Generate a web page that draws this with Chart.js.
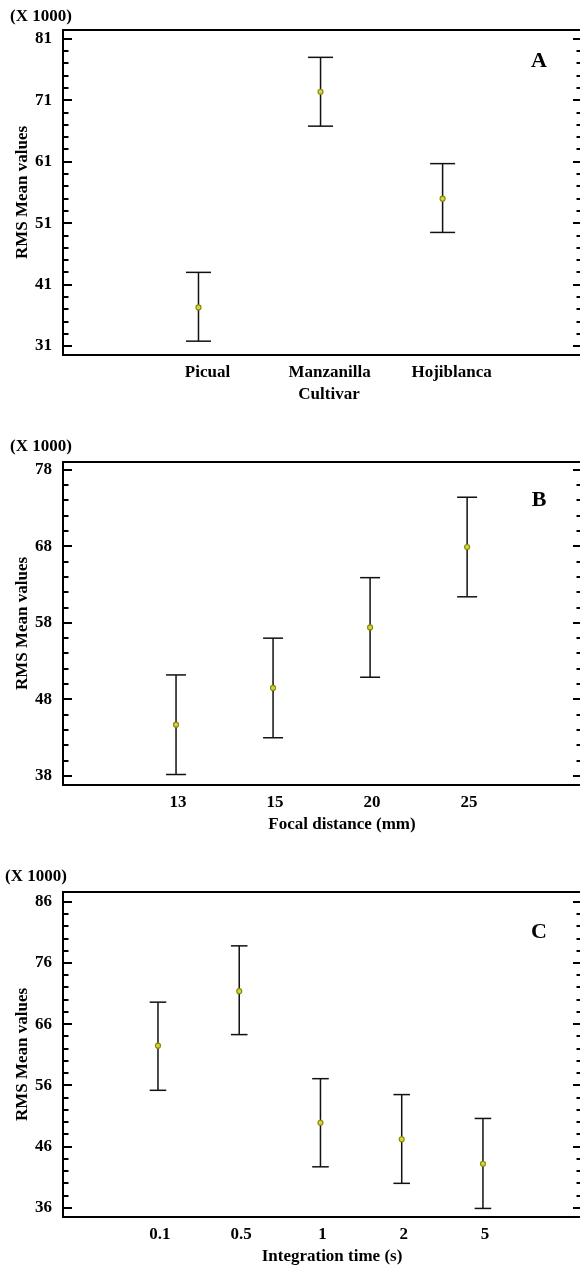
<!DOCTYPE html>
<html>
<head>
<meta charset="utf-8">
<script src="https://cdn.jsdelivr.net/npm/chart.js@4.4.1/dist/chart.umd.min.js"></script>
<style>
  html, body { margin: 0; padding: 0; overflow: hidden; background: #fff; }
  .panel { position: absolute; left: 0; }
</style>
</head>
<body>
<div class="panel" style="top:0"><canvas id="chartA" width="582" height="420"></canvas></div>
<div class="panel" style="top:430px"><canvas id="chartB" width="582" height="430"></canvas></div>
<div class="panel" style="top:860px"><canvas id="chartC" width="582" height="407"></canvas></div>
<script>
// values are in thousands (axis says X 1000)
const cultivars = ['Picual', 'Manzanilla', 'Hojiblanca'];
const cultivarMean = [37.3, 72.4, 55.0];
const cultivarLow = [31.8, 66.8, 49.5];
const cultivarHigh = [43.0, 78.0, 60.7];
const cultivarTicks = [31, 41, 51, 61, 71, 81];

const focalDistances = ['13', '15', '20', '25'];
const focalMean = [44.7, 49.5, 57.4, 67.9];
const focalLow = [38.2, 43.0, 50.9, 61.4];
const focalHigh = [51.2, 56.0, 63.9, 74.4];
const focalTicks = [38, 48, 58, 68, 78];

const integrationTimes = ['0.1', '0.5', '1', '2', '5'];
const integrationMean = [62.5, 71.4, 49.9, 47.2, 43.2];
const integrationLow = [55.2, 64.3, 42.7, 40.0, 35.9];
const integrationHigh = [69.6, 78.8, 57.1, 54.5, 50.6];
const integrationTicks = [36, 46, 56, 66, 76, 86];

const FONT = '"Liberation Serif", "Times New Roman", serif';

// box top/right + inward ticks + loose text
const framePlugin = {
  id: 'frame',
  afterDraw(chart, args, o) {
    const { ctx, chartArea: a, scales: { y } } = chart;
    ctx.save();
    ctx.strokeStyle = '#000';
    ctx.lineWidth = 2;
    ctx.beginPath();
    ctx.moveTo(a.left, a.top);
    ctx.lineTo(a.right, a.top);
    ctx.lineTo(a.right, a.bottom);
    ctx.stroke();

    const first = o.major[0];
    const last = o.major[o.major.length - 1];
    for (let v = first; v <= last + 0.001; v += 2) {
      const isMajor = o.major.includes(v);
      const len = isMajor ? 9 : 5.5;
      const py = Math.round(y.getPixelForValue(v));
      ctx.beginPath();
      ctx.moveTo(a.left, py); ctx.lineTo(a.left + len, py);
      ctx.moveTo(a.right, py); ctx.lineTo(a.right - len, py);
      ctx.stroke();
    }

    ctx.fillStyle = '#000';
    ctx.font = 'bold 17px ' + FONT;
    ctx.textBaseline = 'middle';
    ctx.textAlign = 'left';
    ctx.fillText('(X 1000)', o.unitX, a.top - o.unitDy);
    ctx.textAlign = 'center';
    ctx.fillText(o.xTitle, o.xTitleX, a.bottom + 40);
    ctx.font = 'bold 22px ' + FONT;
    ctx.fillText(o.letter, a.right - 43, a.top + o.letterDy);
    ctx.restore();
  }
};

function makePanel(id, p) {
  const whisker = [];
  p.cats.forEach((c, i) => {
    whisker.push({ x: i + 1, y: p.low[i] });
    whisker.push({ x: i + 1, y: p.high[i] });
    whisker.push({ x: i + 1, y: null });
  });
  const means = p.mean.map((v, i) => ({ x: i + 1, y: v }));

  new Chart(document.getElementById(id), {
    type: 'line',
    data: {
      datasets: [
        {
          data: means,
          showLine: false,
          pointStyle: 'circle',
          pointRadius: 2.5,
          pointBorderWidth: 1.2,
          pointBorderColor: '#8c8c00',
          pointBackgroundColor: '#d4d44a',
          order: 0
        },
        {
          data: whisker,
          spanGaps: false,
          borderColor: '#111',
          borderWidth: 1.5,
          pointStyle: 'line',
          pointRadius: p.cap,
          pointBorderColor: '#111',
          pointBorderWidth: 1.5,
          order: 1
        }
      ]
    },
    options: {
      responsive: false,
      animation: false,
      devicePixelRatio: 1,
      layout: { autoPadding: false, padding: { left: 8, top: p.top, right: 0, bottom: 0 } },
      plugins: {
        legend: { display: false },
        tooltip: { enabled: false },
        frame: p.frame
      },
      scales: {
        x: {
          type: 'linear',
          bounds: 'data',
          min: p.xMin,
          max: p.xMax,
          grid: { display: false, drawTicks: false },
          border: { display: true, color: '#000', width: 2 },
          afterBuildTicks: s => { s.ticks = p.cats.map((c, i) => ({ value: i + 1 })); },
          afterFit: s => { s.height = p.xh; s.paddingLeft = 0; s.paddingRight = 0; },
          ticks: {
            autoSkip: false,
            maxRotation: 0,
            padding: 7,
            labelOffset: p.labelOffset,
            color: '#000',
            font: { family: FONT, size: 17, weight: 'bold' },
            callback: (v, i) => p.cats[i]
          }
        },
        y: {
          type: 'linear',
          bounds: 'data',
          min: p.yMin,
          max: p.yMax,
          grid: { display: false, drawTicks: false },
          border: { display: true, color: '#000', width: 2 },
          afterBuildTicks: s => { s.ticks = p.yTicks.map(v => ({ value: v })); },
          afterFit: s => { s.width = 55; s.paddingTop = 0; s.paddingBottom = 0; },
          title: {
            display: true,
            text: 'RMS Mean values',
            color: '#000',
            padding: { top: 4, bottom: 0 },
            font: { family: FONT, size: 17, weight: 'bold' }
          },
          ticks: {
            padding: 11,
            color: '#000',
            font: { family: FONT, size: 17, weight: 'bold' }
          }
        }
      }
    },
    plugins: [framePlugin]
  });
}

makePanel('chartA', {
  cats: cultivars, mean: cultivarMean, low: cultivarLow, high: cultivarHigh,
  yTicks: cultivarTicks, yMin: 29.55, yMax: 82.45,
  xMin: -0.110, xMax: 4.142, top: 30, xh: 65, cap: 12.5, labelOffset: 9,
  frame: { major: cultivarTicks, letter: 'A', letterDy: 31, unitX: 10, unitDy: 13, xTitle: 'Cultivar', xTitleX: 329 }
});

makePanel('chartB', {
  cats: focalDistances, mean: focalMean, low: focalLow, high: focalHigh,
  yTicks: focalTicks, yMin: 36.83, yMax: 79.0,
  xMin: -0.165, xMax: 5.184, top: 32, xh: 75, cap: 10, labelOffset: 2,
  frame: { major: focalTicks, letter: 'B', letterDy: 38, unitX: 10, unitDy: 15, xTitle: 'Focal distance (mm)', xTitleX: 342 }
});

makePanel('chartC', {
  cats: integrationTimes, mean: integrationMean, low: integrationLow, high: integrationHigh,
  yTicks: integrationTicks, yMin: 34.5, yMax: 87.6,
  xMin: -0.169, xMax: 6.219, top: 32, xh: 50, cap: 8.3, labelOffset: 2,
  frame: { major: integrationTicks, letter: 'C', letterDy: 40, unitX: 5, unitDy: 15, xTitle: 'Integration time (s)', xTitleX: 332 }
});
</script>
</body>
</html>
